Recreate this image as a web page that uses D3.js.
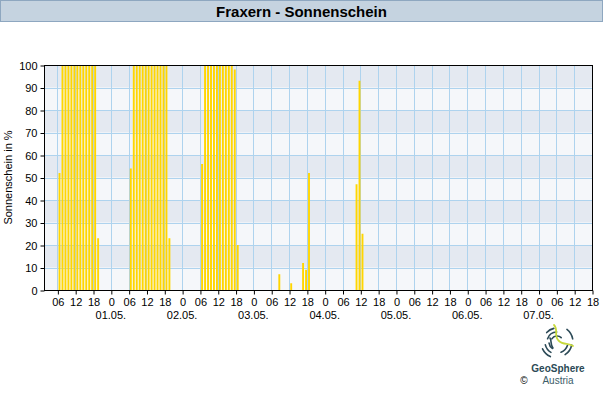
<!DOCTYPE html>
<html>
<head>
<meta charset="utf-8">
<script src="https://cdn.jsdelivr.net/npm/d3@7"></script>
<style>
  body { margin: 0; background: #fff; }
  svg { display: block; font-family: "Liberation Sans", Arial, sans-serif; }
</style>
</head>
<body>
<div id="chart"></div>
<script>
// hourly sunshine share, hour start
const sunTimes = [
  "2024-04-30 06", "2024-04-30 07", "2024-04-30 08", "2024-04-30 09", "2024-04-30 10",
  "2024-04-30 11", "2024-04-30 12", "2024-04-30 13", "2024-04-30 14", "2024-04-30 15",
  "2024-04-30 16", "2024-04-30 17", "2024-04-30 18", "2024-04-30 19",
  "2024-05-01 06", "2024-05-01 07", "2024-05-01 08", "2024-05-01 09", "2024-05-01 10",
  "2024-05-01 11", "2024-05-01 12", "2024-05-01 13", "2024-05-01 14", "2024-05-01 15",
  "2024-05-01 16", "2024-05-01 17", "2024-05-01 18", "2024-05-01 19",
  "2024-05-02 06", "2024-05-02 07", "2024-05-02 08", "2024-05-02 09", "2024-05-02 10",
  "2024-05-02 11", "2024-05-02 12", "2024-05-02 13", "2024-05-02 14", "2024-05-02 15",
  "2024-05-02 16", "2024-05-02 17", "2024-05-02 18",
  "2024-05-03 08", "2024-05-03 12", "2024-05-03 16", "2024-05-03 17", "2024-05-03 18",
  "2024-05-04 10", "2024-05-04 11", "2024-05-04 12"
]
const sunValues = [
  52, 100, 100, 100, 100, 100, 100, 100, 100, 100, 100, 100, 100, 23,
  54, 100, 100, 100, 100, 100, 100, 100, 100, 100, 100, 100, 100, 23,
  56, 100, 100, 100, 100, 100, 100, 100, 100, 100, 100, 98, 20,
  7, 3, 12, 9, 52,
  47, 93, 25
]
const yTicks = [0, 10, 20, 30, 40, 50, 60, 70, 80, 90, 100]
const titleText = "Fraxern - Sonnenschein"
const yLabel = "Sonnenschein in %"

const W = 603, H = 400
const pLeft = 44, pRight = 592, pTop = 65, pBottom = 290

const parse = d3.timeParse("%Y-%m-%d %H")
const data = sunTimes.map((t, i) => ({ t: parse(t), v: sunValues[i] }))

const x = d3.scaleTime()
    .domain([new Date(2024, 3, 30, 1, 30), new Date(2024, 4, 7, 18)])
    .range([pLeft, pRight])
const y = d3.scaleLinear().domain([0, 100]).range([pBottom, pTop])

const svg = d3.select('#chart').append('svg')
    .attr('width', W)
    .attr('height', H)

// title bar
svg.append('rect')
    .attr('x', 0.5).attr('y', 0.5)
    .attr('width', W - 1).attr('height', 21)
    .attr('fill', '#c5d3e0')
    .attr('stroke', '#8ea7c0')
svg.append('text')
    .attr('x', W / 2).attr('y', 16.5)
    .attr('text-anchor', 'middle')
    .attr('font-size', '15px')
    .attr('font-weight', 'bold')
    .attr('fill', '#000')
    .text(titleText)

// bands
const bands = yTicks.slice(0, -1)
svg.append('g').selectAll('rect')
    .data(bands)
    .join('rect')
    .attr('x', pLeft)
    .attr('width', pRight - pLeft)
    .attr('y', d => y(d + 10))
    .attr('height', d => y(d) - y(d + 10))
    .attr('fill', d => (d / 10) % 2 ? '#e4e9f1' : '#f5f7fa')

// grid
const hourTicks = d3.timeHour.every(6).range(x.domain()[0], d3.timeMinute.offset(x.domain()[1], 1))
const grid = svg.append('g').attr('stroke', '#aed3ee').attr('stroke-width', 1)
grid.selectAll('.v')
    .data(hourTicks)
    .join('line')
    .attr('x1', d => Math.round(x(d)) + 0.5)
    .attr('x2', d => Math.round(x(d)) + 0.5)
    .attr('y1', pTop).attr('y2', pBottom)
grid.selectAll('.h')
    .data(yTicks.slice(1, -1))
    .join('line')
    .attr('x1', pLeft).attr('x2', pRight)
    .attr('y1', d => Math.round(y(d)) + 0.5)
    .attr('y2', d => Math.round(y(d)) + 0.5)

// bars
svg.append('g').selectAll('rect')
    .data(data)
    .join('rect')
    .attr('x', d => x(d.t) + 1.2)
    .attr('width', 1.9)
    .attr('y', d => y(d.v))
    .attr('height', d => y(0) - y(d.v))
    .attr('fill', '#ffd600')

// frame
svg.append('rect')
    .attr('x', pLeft + 0.5).attr('y', pTop + 0.5)
    .attr('width', pRight - pLeft).attr('height', pBottom - pTop)
    .attr('fill', 'none')
    .attr('stroke', '#000')

// y axis
const yAxis = d3.axisLeft(y).tickValues(yTicks).tickSize(4).tickPadding(3)
svg.append('g')
    .attr('transform', `translate(${pLeft + 0.5},0.5)`)
    .call(yAxis)
    .call(g => g.select('.domain').remove())
    .call(g => g.selectAll('text').attr('font-size', '11px').attr('font-family', null).attr('fill', '#000'))

// x axis hours
const xAxis = d3.axisBottom(x)
    .tickValues(hourTicks.filter(d => x(d) >= pLeft))
    .tickSize(4)
    .tickPadding(4)
    .tickFormat(d => d.getHours() === 0 ? '0' : d3.timeFormat('%H')(d))
svg.append('g')
    .attr('transform', `translate(0.5,${pBottom + 0.5})`)
    .call(xAxis)
    .call(g => g.select('.domain').remove())
    .call(g => g.selectAll('text').attr('font-size', '11px').attr('font-family', null).attr('fill', '#000'))

// date labels
const days = hourTicks.filter(d => d.getHours() === 0)
svg.append('g').selectAll('text')
    .data(days)
    .join('text')
    .attr('x', d => x(d))
    .attr('y', 319)
    .attr('text-anchor', 'middle')
    .attr('font-size', '11px')
    .text(d3.timeFormat('%d.%m.'))

// y label
svg.append('text')
    .attr('transform', `translate(12,${(pTop + pBottom) / 2}) rotate(-90)`)
    .attr('text-anchor', 'middle')
    .attr('font-size', '11px')
    .text(yLabel)

// logo
const logo = svg.append('g').attr('transform', 'translate(557,342)')
    .attr('fill', 'none').attr('stroke-linecap', 'round')
const arcs = [
  [6, -2.6, -0.8], [10, -2.8, -1.6], [14, -2.4, -1.8], [16, 2.0, 2.7],
  [12, 2.1, 2.9], [8, 2.2, 3.0], [15, 0.2, 1.0], [11, 0.3, 1.2], [16, -0.9, -0.2]
]
arcs.forEach(([r, a0, a1]) => {
    const p = d3.path()
    p.arc(0, 0, r, a0, a1)
    logo.append('path').attr('d', p.toString())
        .attr('stroke', '#2c4a57').attr('stroke-width', 1.6)
})
logo.append('path')
    .attr('d', 'M-3,-17 C2,-12 -4,-6 2,-1 C6,3 12,1 16,4')
    .attr('stroke', '#c7d93c').attr('stroke-width', 1.8)
logo.append('path')
    .attr('d', 'M-7,-4 C-5,-1 -7,3 -4,6')
    .attr('stroke', '#2c4a57').attr('stroke-width', 1.6)

svg.append('text')
    .attr('x', 558).attr('y', 372)
    .attr('text-anchor', 'middle')
    .attr('font-size', '10px')
    .attr('font-weight', 'bold')
    .attr('fill', '#2b4a56')
    .text('GeoSphere')
svg.append('text')
    .attr('x', 558).attr('y', 384)
    .attr('text-anchor', 'middle')
    .attr('font-size', '10px')
    .attr('fill', '#3c5d69')
    .text('Austria')
svg.append('text')
    .attr('x', 524).attr('y', 384)
    .attr('text-anchor', 'middle')
    .attr('font-size', '10px')
    .attr('fill', '#000')
    .text('©')
</script>
</body>
</html>
